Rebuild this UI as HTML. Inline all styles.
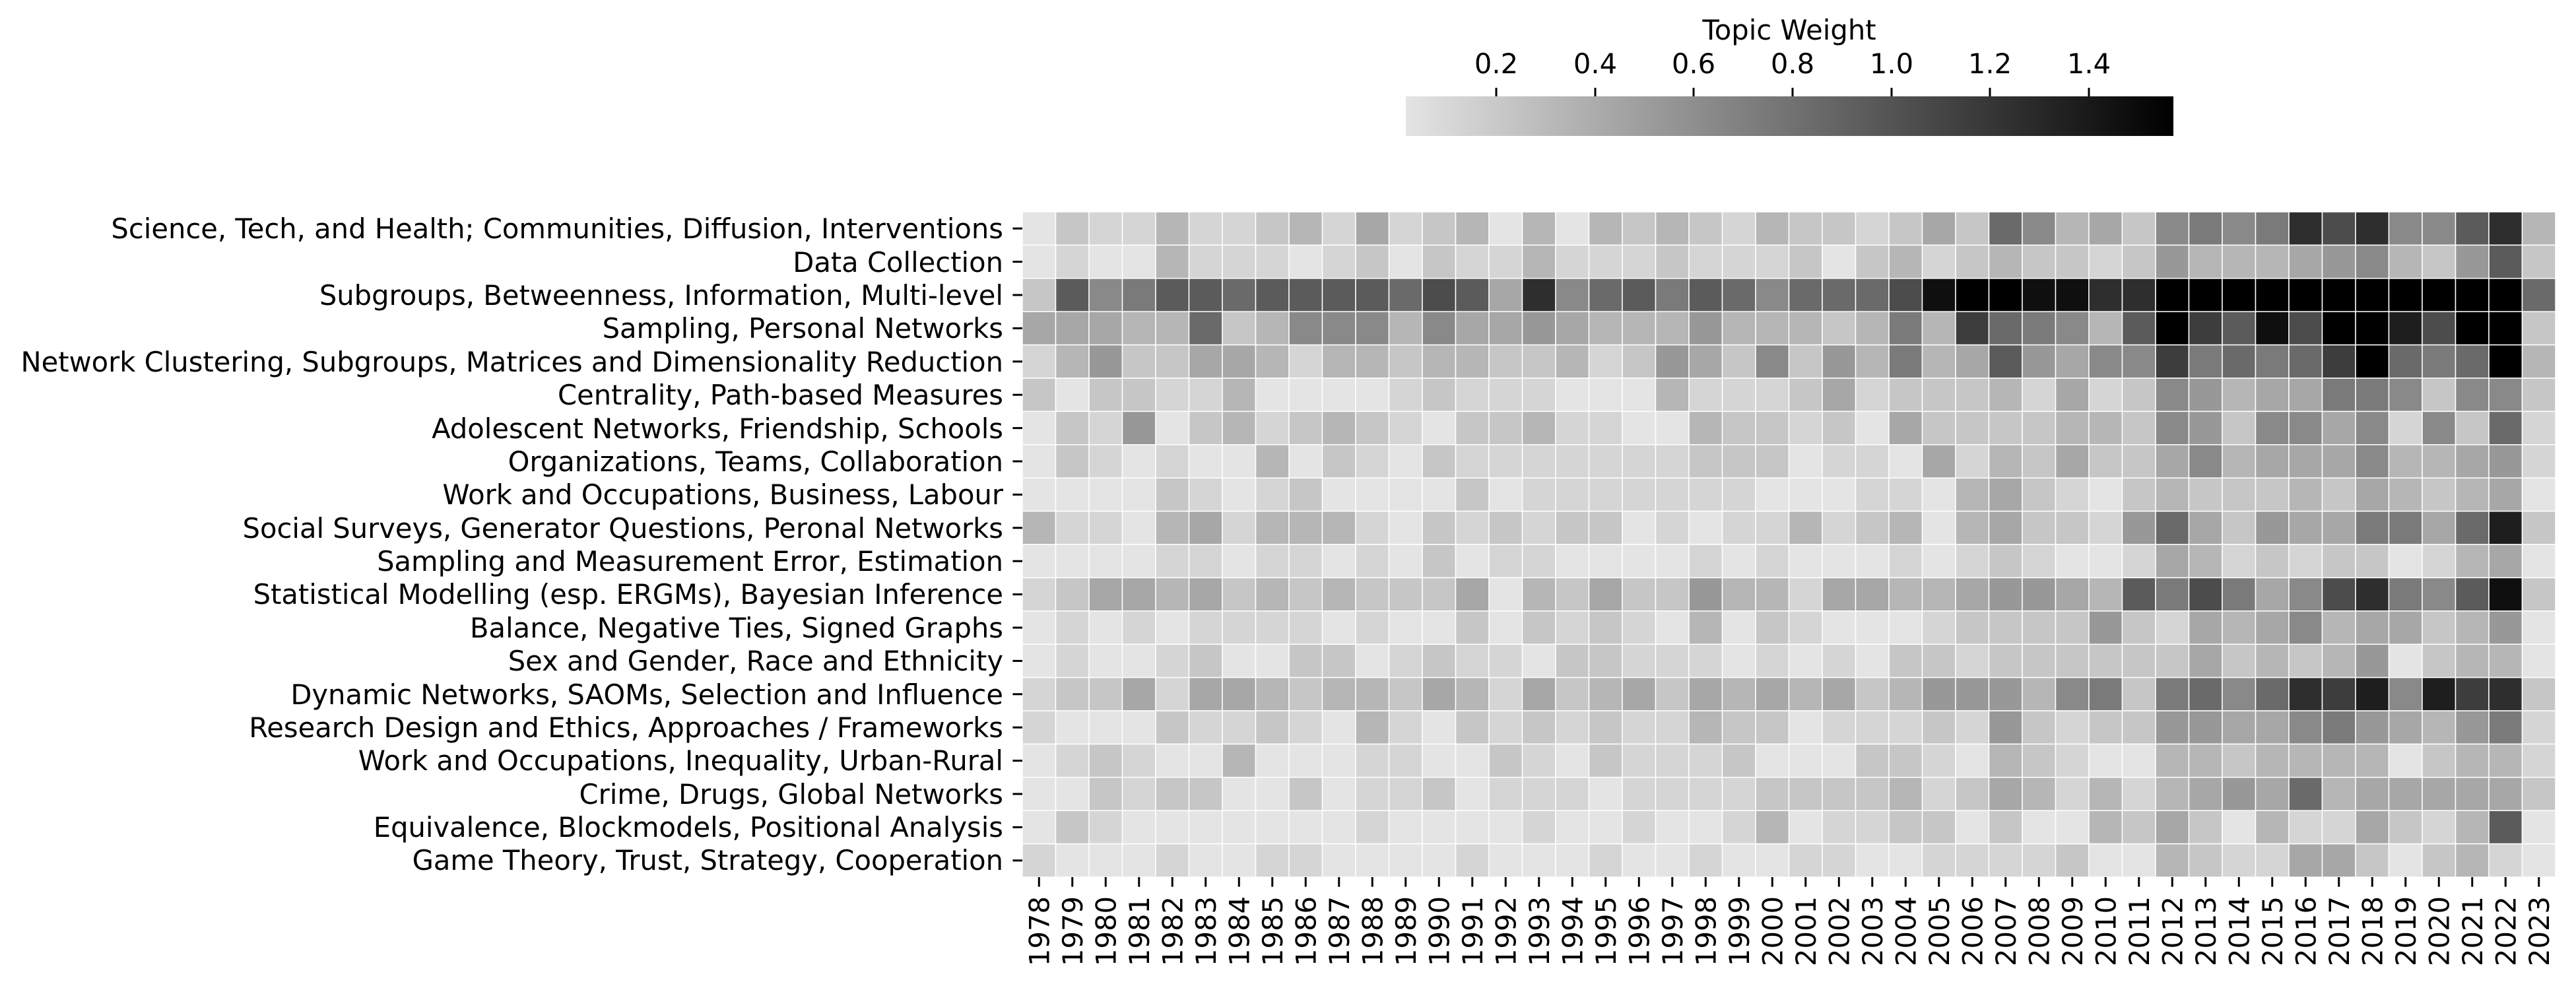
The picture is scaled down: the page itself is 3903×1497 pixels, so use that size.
<!DOCTYPE html>
<html><head><meta charset="utf-8"><style>
html,body{margin:0;padding:0;background:#fff;}
svg{display:block;font-family:"DejaVu Sans","Liberation Sans",sans-serif;}
</style></head><body>
<svg id="s" width="3903" height="1497" viewBox="0 0 3903 1497" xmlns="http://www.w3.org/2000/svg">
<defs><linearGradient id="cb" x1="0" x2="1" y1="0" y2="0"><stop offset="0" stop-color="#e4e4e4"/><stop offset="1" stop-color="#000"/></linearGradient></defs>
<rect x="0" y="0" width="3903" height="1497" fill="#fff"/>
<g id="cells"></g>
<!-- colorbar -->
<rect x="2130" y="146" width="1163" height="60" fill="url(#cb)"/>
<g stroke="#000" stroke-width="3">
<line x1="2267" y1="133" x2="2267" y2="146"/><line x1="2417" y1="133" x2="2417" y2="146"/><line x1="2566" y1="133" x2="2566" y2="146"/><line x1="2716" y1="133" x2="2716" y2="146"/><line x1="2866" y1="133" x2="2866" y2="146"/><line x1="3015" y1="133" x2="3015" y2="146"/><line x1="3165" y1="133" x2="3165" y2="146"/>
</g>
<g font-size="41.67" text-anchor="middle" fill="#000">
<text x="2267" y="111">0.2</text><text x="2417" y="111">0.4</text><text x="2566" y="111">0.6</text><text x="2716" y="111">0.8</text><text x="2866" y="111">1.0</text><text x="3015" y="111">1.2</text><text x="3165" y="111">1.4</text>
<text x="2711" y="60">Topic Weight</text>
</g>
<!-- row labels -->
<g font-size="41.67" text-anchor="end" fill="#000">
<text x="1520" y="346" dy="0.36em">Science, Tech, and Health; Communities, Diffusion, Interventions</text>
<text x="1520" y="397" dy="0.36em">Data Collection</text>
<text x="1520" y="447" dy="0.36em">Subgroups, Betweenness, Information, Multi-level</text>
<text x="1520" y="497" dy="0.36em">Sampling, Personal Networks</text>
<text x="1520" y="548" dy="0.36em">Network Clustering, Subgroups, Matrices and Dimensionality Reduction</text>
<text x="1520" y="598" dy="0.36em">Centrality, Path-based Measures</text>
<text x="1520" y="649" dy="0.36em">Adolescent Networks, Friendship, Schools</text>
<text x="1520" y="699" dy="0.36em">Organizations, Teams, Collaboration</text>
<text x="1520" y="749" dy="0.36em">Work and Occupations, Business, Labour</text>
<text x="1520" y="800" dy="0.36em">Social Surveys, Generator Questions, Peronal Networks</text>
<text x="1520" y="850" dy="0.36em">Sampling and Measurement Error, Estimation</text>
<text x="1520" y="900" dy="0.36em">Statistical Modelling (esp. ERGMs), Bayesian Inference</text>
<text x="1520" y="951" dy="0.36em">Balance, Negative Ties, Signed Graphs</text>
<text x="1520" y="1001" dy="0.36em">Sex and Gender, Race and Ethnicity</text>
<text x="1520" y="1052" dy="0.36em">Dynamic Networks, SAOMs, Selection and Influence</text>
<text x="1520" y="1102" dy="0.36em">Research Design and Ethics, Approaches / Frameworks</text>
<text x="1520" y="1152" dy="0.36em">Work and Occupations, Inequality, Urban-Rural</text>
<text x="1520" y="1203" dy="0.36em">Crime, Drugs, Global Networks</text>
<text x="1520" y="1253" dy="0.36em">Equivalence, Blockmodels, Positional Analysis</text>
<text x="1520" y="1303" dy="0.36em">Game Theory, Trust, Strategy, Cooperation</text>
</g>
<g id="ticks" stroke="#000" stroke-width="3"></g>
<g id="years" font-size="41.67" text-anchor="end" fill="#000">
<text>1978</text><text>1979</text><text>1980</text><text>1981</text><text>1982</text><text>1983</text><text>1984</text><text>1985</text><text>1986</text><text>1987</text><text>1988</text><text>1989</text><text>1990</text><text>1991</text><text>1992</text><text>1993</text><text>1994</text><text>1995</text><text>1996</text><text>1997</text><text>1998</text><text>1999</text><text>2000</text><text>2001</text><text>2002</text><text>2003</text><text>2004</text><text>2005</text><text>2006</text><text>2007</text><text>2008</text><text>2009</text><text>2010</text><text>2011</text><text>2012</text><text>2013</text><text>2014</text><text>2015</text><text>2016</text><text>2017</text><text>2018</text><text>2019</text><text>2020</text><text>2021</text><text>2022</text><text>2023</text>
</g>
</svg>
<script>
var rows=[
"0211311231412303032321322121424286342676767ca6c693".slice(0,0)||"0,2,1,1,3,1,1,2,3,1,4,1,2,3,0,3,0,3,2,3,2,1,3,2,2,1,2,4,2,8,6,3,4,2,6,7,6,7,c,a,c,6,6,9,c,3",
"0,1,0,0,3,1,1,1,0,1,2,0,2,1,1,3,1,1,1,2,1,1,1,2,0,2,3,1,2,3,2,2,1,2,5,3,3,3,4,5,6,3,2,5,9,2",
"2,9,6,7,9,9,8,9,9,9,9,8,a,9,4,c,6,8,9,7,9,8,6,8,8,8,a,e,f,f,e,e,c,c,f,f,f,f,f,f,f,f,f,f,f,8",
"4,4,4,3,3,8,2,3,6,6,6,3,6,4,4,5,4,3,3,3,5,3,3,3,2,3,7,3,b,8,7,6,3,9,f,b,9,e,a,f,f,d,a,f,f,2",
"1,3,5,2,2,4,4,3,1,3,3,2,3,3,2,2,3,1,2,5,4,2,6,2,5,3,7,3,4,9,5,4,6,6,b,7,8,7,8,b,f,8,7,8,f,3",
"2,0,2,2,1,1,3,0,0,0,0,1,2,1,1,1,0,0,0,3,1,1,1,2,4,1,2,2,2,3,1,4,1,2,6,5,3,4,4,7,7,6,2,6,6,2",
"0,2,1,5,0,2,3,1,2,3,2,1,0,2,2,3,1,1,0,0,3,2,2,1,2,0,4,2,2,2,2,3,3,2,6,5,2,6,6,4,6,1,6,2,8,1",
"0,2,1,0,1,0,0,3,0,2,1,0,2,1,1,1,1,1,1,1,2,2,2,0,1,1,0,4,1,3,2,4,2,2,4,6,3,4,4,4,6,3,3,4,5,1",
"0,0,0,0,2,1,0,1,2,0,0,0,0,2,0,1,1,1,1,1,1,1,0,0,0,1,1,0,3,4,2,1,0,2,3,2,2,2,3,2,4,3,2,3,4,0",
"3,1,1,0,3,4,1,3,3,3,1,0,2,1,2,1,2,2,0,1,0,1,1,3,1,2,3,0,3,4,2,2,1,5,8,4,2,5,4,4,7,7,4,8,d,2",
"0,0,0,0,1,1,0,1,1,0,1,0,2,0,1,1,0,0,0,0,1,0,1,0,0,0,1,0,1,2,1,0,0,1,4,3,1,2,1,2,2,0,1,3,4,0",
"1,2,4,4,3,4,2,3,2,3,2,2,2,4,0,3,2,4,2,2,5,3,3,1,4,4,3,3,4,5,5,4,3,9,7,a,7,4,6,a,c,7,6,9,e,2",
"0,1,0,1,0,1,1,1,1,0,1,0,0,2,0,2,1,2,1,0,3,0,2,1,0,0,0,1,2,2,2,2,5,2,1,4,3,4,6,3,4,4,2,3,5,0",
"0,1,0,0,1,2,0,0,2,2,0,1,2,1,1,0,2,2,1,1,1,0,1,0,1,0,2,2,1,2,2,2,2,2,2,4,2,3,2,3,5,0,2,3,3,0",
"1,2,2,4,1,4,4,3,2,3,3,2,4,3,1,4,2,3,4,2,4,3,4,3,4,2,3,5,5,5,3,6,7,2,7,8,6,8,c,b,d,6,d,b,c,2",
"1,0,0,0,2,1,1,2,1,0,3,1,0,2,1,2,1,2,1,1,3,2,2,0,1,1,1,2,1,5,2,1,2,2,5,5,4,4,6,7,5,4,3,5,7,1",
"0,1,2,1,0,0,3,0,0,0,1,1,0,0,2,1,0,2,1,1,1,2,0,0,0,2,2,1,0,3,2,1,0,0,3,3,2,3,3,3,3,0,2,3,3,1",
"0,0,2,1,2,2,0,0,2,0,1,1,2,0,1,1,1,0,1,1,1,1,2,2,2,2,3,1,2,4,3,1,3,1,3,4,5,4,8,3,4,4,4,4,4,2",
"0,2,1,0,0,0,0,0,0,0,1,0,0,0,0,1,0,0,1,0,0,1,3,0,1,1,2,2,0,2,0,0,3,2,4,2,0,3,1,1,4,2,1,3,9,0",
"1,0,0,0,1,0,0,1,1,0,0,0,0,1,0,0,0,1,0,0,1,0,0,1,1,0,0,1,1,1,1,2,0,0,3,2,1,1,4,4,2,0,2,3,1,0"
];
var NS="http://www.w3.org/2000/svg";
var X0=1549,Y0=321,CW=50.5,RH=50.4;
var g=document.getElementById("cells");
for(var j=0;j<rows.length;j++){
  var v=rows[j].split(",");
  for(var i=0;i<v.length;i++){
    var idx=parseInt(v[i],16);
    var c=Math.max(0,Math.round(228-idx*15.2));
    var r=document.createElementNS(NS,"rect");
    r.setAttribute("x",X0+i*CW);r.setAttribute("y",Y0+j*RH);
    r.setAttribute("width",CW);r.setAttribute("height",RH);
    r.setAttribute("fill","rgb("+c+","+c+","+c+")");
    r.setAttribute("stroke","#fff");r.setAttribute("stroke-width","1.5");
    g.appendChild(r);
  }
}
var t=document.getElementById("ticks");
for(var j=0;j<20;j++){
  var y=Y0+(j+0.5)*RH;
  var l=document.createElementNS(NS,"line");
  l.setAttribute("x1",X0-14.6);l.setAttribute("x2",X0);l.setAttribute("y1",y);l.setAttribute("y2",y);
  t.appendChild(l);
}
var ys=document.getElementById("years").getElementsByTagName("text");
for(var i=0;i<ys.length;i++){
  var x=X0+(i+0.5)*CW;
  var l=document.createElementNS(NS,"line");
  l.setAttribute("x1",x);l.setAttribute("x2",x);l.setAttribute("y1",Y0+20*RH);l.setAttribute("y2",Y0+20*RH+14.6);
  t.appendChild(l);
  ys[i].setAttribute("transform","translate("+x+",1358) rotate(-90)");
  ys[i].setAttribute("dy","0.36em");
}
</script>
</body></html>
